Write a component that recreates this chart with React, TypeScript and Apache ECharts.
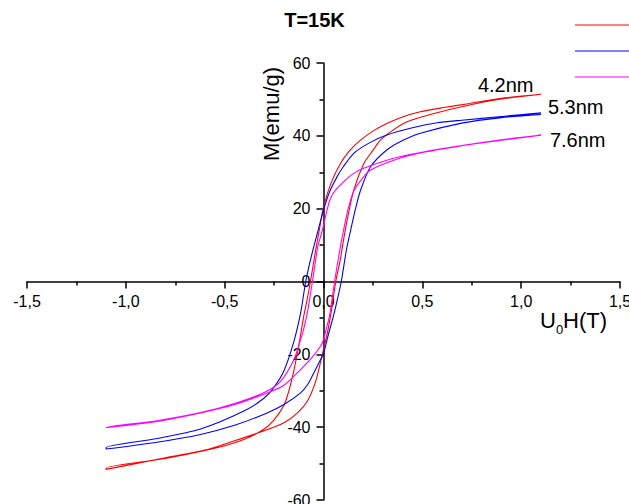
import React, { useEffect, useRef } from 'react';
import * as echarts from 'echarts';

const FONT = 'Liberation Sans, Arial, sans-serif';

const xTickLabels = ['-1,5', '-1,0', '-0,5', '0,0', '0,5', '1,0', '1,5'];
const curveNames = ['4.2nm', '5.3nm', '7.6nm'];
const curveColors = ['#ff0000', '#0000ff', '#ff00ff'];

// 4.2 nm — descending branch (field from +1.1 T to -1.1 T)
const h42Down = [1.1, 0.9, 0.74, 0.6, 0.49, 0.4, 0.32, 0.25, 0.187, 0.13, 0.086, 0.04, 0.0, -0.02, -0.04, -0.066, -0.085, -0.1, -0.12, -0.15, -0.175, -0.2, -0.25, -0.3, -0.4, -0.55, -0.8, -1.1];
const m42Down = [51.4, 50.3, 48.9, 47.7, 46.6, 45.2, 43.4, 41.3, 38.8, 35.8, 32.4, 27.3, 20.5, 14.5, 8.5, 0, -5.5, -9.5, -16, -24.5, -30, -34, -38, -40.5, -43.3, -45.8, -48.6, -51.3];
// 4.2 nm — ascending branch
const h42Up = [-1.1, -0.8, -0.6, -0.454, -0.3, -0.2, -0.13, -0.082, -0.04, -0.007, 0.02, 0.04, 0.062, 0.085, 0.1, 0.12, 0.153, 0.204, 0.25, 0.288, 0.35, 0.42, 0.55, 0.75, 0.9, 1.1];
const m42Up = [-51.6, -48.4, -46.3, -43.8, -41, -38.8, -36, -32.9, -27.5, -20.3, -14, -8, 0, 6, 11, 17, 25.1, 32.4, 36, 38.8, 41.5, 43.8, 46, 48.6, 50.1, 51.4];

// 5.3 nm
const h53Down = [1.1, 0.9, 0.7, 0.575, 0.45, 0.32, 0.23, 0.153, 0.1, 0.069, 0.03, 0.0, -0.025, -0.049, -0.07, -0.09, -0.116, -0.15, -0.2, -0.25, -0.3, -0.4, -0.622, -0.85, -1.1];
const m53Down = [46.3, 45.3, 44.3, 43.6, 42.2, 40.2, 38.0, 35.2, 31.5, 28.8, 24.5, 19.6, 14.5, 9.6, 5, 0, -8.7, -16.5, -24.5, -29, -32, -35.5, -40.5, -43.2, -45.6];
const h53Up = [-1.1, -0.85, -0.622, -0.45, -0.285, -0.2, -0.116, -0.08, -0.049, -0.02, 0.0, 0.025, 0.05, 0.07, 0.09, 0.116, 0.137, 0.162, 0.187, 0.238, 0.32, 0.4, 0.49, 0.7, 0.9, 1.1];
const m53Up = [-46.0, -44.2, -42.0, -39.5, -36.1, -33.8, -30.6, -28.3, -25.1, -22, -19.8, -14.5, -9.6, -5, 0, 8.7, 14, 20, 25, 31.5, 36.1, 38.7, 40.7, 43.5, 45.0, 45.9];

// 7.6 nm
const h76Down = [1.1, 0.9, 0.66, 0.45, 0.32, 0.2, 0.153, 0.1, 0.06, 0.035, 0.015, 0.0, -0.015, -0.029, -0.056, -0.082, -0.1, -0.116, -0.15, -0.218, -0.3, -0.45, -0.622, -0.85, -1.1];
const m76Down = [40.2, 38.8, 37, 35, 33.3, 31, 29.7, 27.3, 25, 22.8, 19, 15.3, 12.3, 9.6, 0, -8.7, -13, -16, -21.5, -27.5, -30.5, -33.5, -36, -38.3, -40.1];
const h76Up = [-1.1, -0.85, -0.622, -0.45, -0.285, -0.2, -0.116, -0.06, -0.015, 0.0, 0.015, 0.03, 0.056, 0.082, 0.103, 0.125, 0.153, 0.2, 0.238, 0.356, 0.5, 0.7, 0.9, 1.1];
const m76Up = [-40.2, -38.5, -36.1, -33.8, -30.6, -28.5, -24.2, -21, -17.8, -16, -12.8, -9.6, 0, 8.5, 14.5, 20, 24.8, 28.5, 30.6, 33.3, 35.4, 37.3, 38.9, 40.2];

const pairs = (h: number[], m: number[]) => h.map((x, i) => [x, m[i]]);

const loops = [
  pairs(h42Down, m42Down).concat(pairs(h42Up, m42Up)),
  pairs(h53Down, m53Down).concat(pairs(h53Up, m53Up)),
  pairs(h76Down, m76Down).concat(pairs(h76Up, m76Up)),
];

const labelOffsets = [
  [-71, -9],
  [-1, -7],
  [1, 5],
];

const GRID_LEFT = 27;
const GRID_RIGHT = 9;
const GRID_TOP = 63;
const GRID_BOTTOM = 4;
const W = 629;
const H = 504;

export default function App() {
  const ref = useRef<HTMLDivElement>(null);
  useEffect(() => {
    document.body.style.margin = '0';
    const chart = echarts.init(ref.current!, null, { renderer: 'svg' });
    const plotW = W - GRID_LEFT - GRID_RIGHT;
    const plotH = H - GRID_TOP - GRID_BOTTOM;
    const axisCommon = {
      axisLine: { onZero: false, lineStyle: { color: '#000', width: 1.5 } },
      axisTick: { show: true, length: 7, lineStyle: { color: '#000', width: 1.5 } },
      minorTick: { show: true, splitNumber: 2, length: 4, lineStyle: { color: '#000', width: 1.5 } },
      splitLine: { show: false },
      minorSplitLine: { show: false },
    };
    chart.setOption({
      animation: false,
      backgroundColor: '#fff',
      title: {
        text: 'T=15K',
        left: 'center',
        top: 10,
        padding: 0,
        textStyle: { fontSize: 20, fontWeight: 'bold', color: '#000', fontFamily: FONT },
      },
      grid: {
        left: GRID_LEFT,
        right: GRID_RIGHT,
        top: GRID_TOP,
        bottom: GRID_BOTTOM,
        containLabel: false,
        outerBoundsMode: 'none',
      },
      xAxis: {
        type: 'value',
        min: -1.5,
        max: 1.5,
        interval: 0.5,
        position: 'bottom',
        offset: -plotH / 2,
        ...axisCommon,
        axisLabel: {
          margin: 12,
          fontSize: 16,
          color: '#000',
          fontFamily: FONT,
          formatter: (v: number) => xTickLabels[Math.round((v + 1.5) / 0.5)],
        },
      },
      yAxis: {
        type: 'value',
        min: -60,
        max: 60,
        interval: 20,
        position: 'left',
        offset: -plotW / 2,
        ...axisCommon,
        axisLabel: { margin: 13, fontSize: 16, color: '#000', fontFamily: FONT },
      },
      series: loops.map((data, i) => ({
        type: 'line',
        name: curveNames[i],
        data,
        showSymbol: false,
        symbol: 'none',
        smooth: 0.25,
        lineStyle: { color: curveColors[i], width: 1.1 },
        itemStyle: { color: curveColors[i] },
        endLabel: {
          show: true,
          formatter: curveNames[i],
          offset: labelOffsets[i],
          color: '#000',
          fontSize: 20,
          fontFamily: FONT,
        },
      })),
      graphic: [
        ...curveColors.map((c, i) => ({
          type: 'line',
          shape: { x1: 575, y1: 25 + i * 26, x2: 629, y2: 25 + i * 26 },
          style: { stroke: c, lineWidth: 1 },
        })),
        {
          type: 'text',
          x: 271,
          y: 114,
          rotation: Math.PI / 2,
          style: {
            text: 'M(emu/g)',
            fontSize: 22,
            fontFamily: FONT,
            fill: '#000',
            align: 'center',
            verticalAlign: 'middle',
          },
        },
        {
          type: 'text',
          x: 540,
          y: 320,
          style: {
            text: 'U{sub|0}H(T)',
            fontSize: 22,
            fontFamily: FONT,
            fill: '#000',
            verticalAlign: 'middle',
            lineHeight: 32,
            rich: {
              sub: { fontSize: 13, fontFamily: FONT, fill: '#000', verticalAlign: 'bottom', lineHeight: 13 },
            },
          },
        },
      ],
    });
    return () => chart.dispose();
  }, []);
  return <div ref={ref} style={{ width: W, height: H }} />;
}
